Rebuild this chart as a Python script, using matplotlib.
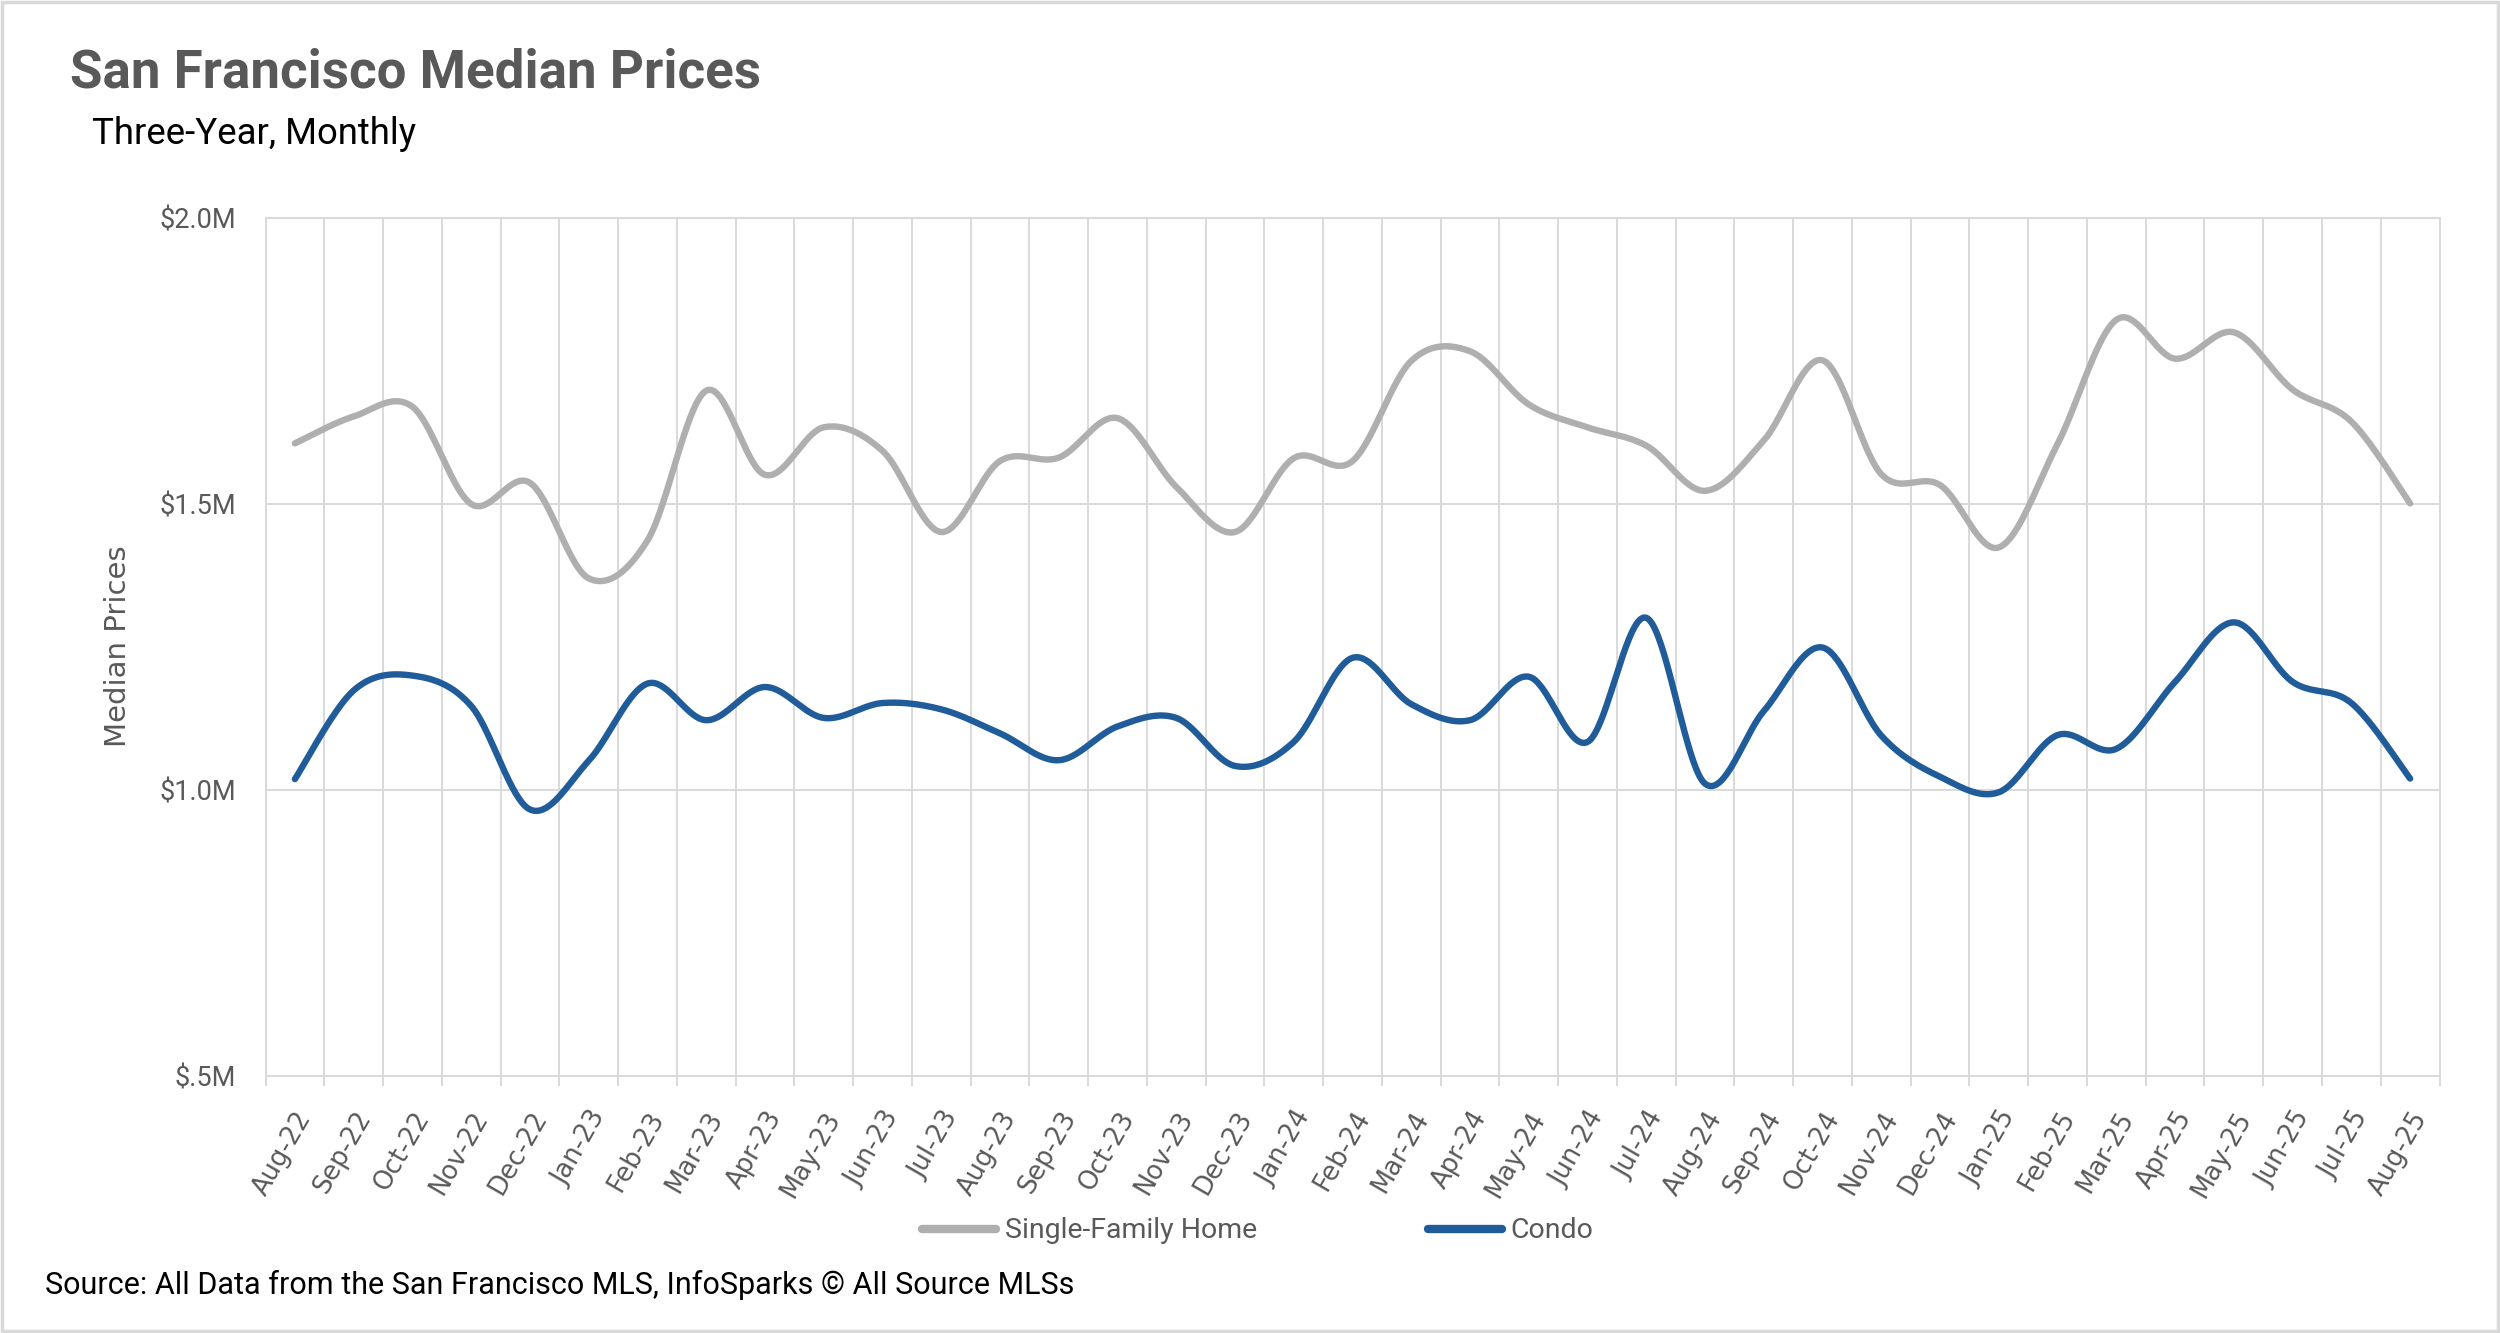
import numpy as np
import matplotlib
matplotlib.use("Agg")
import matplotlib.pyplot as plt
from matplotlib import font_manager
from matplotlib.patches import Rectangle
from matplotlib.ticker import FuncFormatter

# monthly categories
months = ["Aug-22", "Sep-22", "Oct-22", "Nov-22", "Dec-22",
          "Jan-23", "Feb-23", "Mar-23", "Apr-23", "May-23", "Jun-23",
          "Jul-23", "Aug-23", "Sep-23", "Oct-23", "Nov-23", "Dec-23",
          "Jan-24", "Feb-24", "Mar-24", "Apr-24", "May-24", "Jun-24",
          "Jul-24", "Aug-24", "Sep-24", "Oct-24", "Nov-24", "Dec-24",
          "Jan-25", "Feb-25", "Mar-25", "Apr-25", "May-25", "Jun-25",
          "Jul-25", "Aug-25"]

# median prices in $M
single_family = [1.606, 1.653, 1.670, 1.500, 1.537, 1.370, 1.436, 1.698,
                 1.551, 1.634, 1.593, 1.451, 1.575, 1.581, 1.650, 1.530,
                 1.451, 1.580, 1.575, 1.750, 1.767, 1.674, 1.634, 1.602,
                 1.523, 1.611, 1.751, 1.552, 1.533, 1.424, 1.605, 1.822,
                 1.754, 1.800, 1.700, 1.644, 1.501]
condo = [1.019, 1.174, 1.200, 1.147, 0.966, 1.051, 1.186, 1.122,
         1.180, 1.126, 1.152, 1.141, 1.099, 1.052, 1.111, 1.126,
         1.042, 1.084, 1.231, 1.150, 1.122, 1.198, 1.084, 1.301,
         1.011, 1.138, 1.249, 1.095, 1.023, 0.996, 1.096, 1.072,
         1.189, 1.293, 1.189, 1.152, 1.020]

y_ticks = [0.5, 1.0, 1.5, 2.0]

GRAY = "#afafaf"
BLUE = "#1f5c99"
GRID = "#d9d9d9"
TEXT = "#595959"


def pick_font(names):
    for n in names:
        try:
            font_manager.findfont(n, fallback_to_default=False)
            return n
        except Exception:
            pass
    return "DejaVu Sans"


NARROW = pick_font(["Liberation Sans Narrow", "Roboto", "DejaVu Sans"])
WIDE = "DejaVu Sans"


def smooth(xs, ys, n=40):
    # bezier curve through every point, like a spreadsheet "smoothed line"
    p = np.column_stack([xs, ys]).astype(float)
    pad = np.vstack([p[0], p, p[-1]])
    out = []
    for i in range(len(p) - 1):
        p0, p1, p2, p3 = pad[i], pad[i + 1], pad[i + 2], pad[i + 3]
        c1 = p1 + (p2 - p0) / 6
        c2 = p2 - (p3 - p1) / 6
        t = np.linspace(0, 1, n, endpoint=(i == len(p) - 2))[:, None]
        out.append((1 - t) ** 3 * p1 + 3 * (1 - t) ** 2 * t * c1
                   + 3 * (1 - t) * t ** 2 * c2 + t ** 3 * p2)
    return np.vstack(out)


fig = plt.figure(figsize=(25, 13.33), dpi=100)
ax = fig.add_axes([0.1062, 0.1928, 0.8696, 0.6437])

x = np.arange(len(months))
sf = smooth(x, single_family)
cd = smooth(x, condo)
ax.plot(sf[:, 0], sf[:, 1], color=GRAY, lw=4.6, solid_capstyle="round",
        label="Single-Family Home", zorder=3)
ax.plot(cd[:, 0], cd[:, 1], color=BLUE, lw=4.6, solid_capstyle="round",
        label="Condo", zorder=4)

ax.set_xlim(-0.5, len(months) - 0.5)
ax.set_ylim(0.5, 2.0)
ax.set_yticks(y_ticks)
ax.yaxis.set_major_formatter(
    FuncFormatter(lambda v, p: ("$%.1fM" % v).replace("$0.", "$.")))
ax.set_xticks(x)
ax.set_xticklabels(months, rotation=60, ha="right", va="top",
                   rotation_mode="anchor", fontsize=18.5, color=TEXT,
                   family=WIDE)
ax.set_xticks(np.arange(-0.5, len(months), 1), minor=True)

ax.grid(axis="y", which="major", color=GRID, lw=1.4)
ax.grid(axis="x", which="minor", color=GRID, lw=1.4)
ax.tick_params(axis="x", which="major", length=0, pad=22)
ax.tick_params(axis="x", which="minor", length=7, width=1.4, color=GRID)
ax.tick_params(axis="y", length=0, pad=21, labelsize=19.5, labelcolor=TEXT)
for lab in ax.get_yticklabels():
    lab.set_family(NARROW)
for s in ax.spines.values():
    s.set_color(GRID)
    s.set_linewidth(1.4)
ax.set_axisbelow(True)

fig.text(118 / 2500, 1 - 646 / 1333, "Median Prices", rotation=90,
         ha="center", va="center", fontsize=21, color=TEXT, family=WIDE)

title = fig.text(70 / 2500, 1 - 73 / 1333, "San Francisco Median Prices",
                 ha="left", va="center", fontsize=38, fontweight="bold",
                 color=TEXT, family=NARROW)
sub = fig.text(92 / 2500, 1 - 134 / 1333, "Three-Year, Monthly",
               ha="left", va="center", fontsize=22, color="black",
               family=NARROW)
fig.text(45 / 2500, 1 - 1285 / 1333,
         "Source: All Data from the San Francisco MLS, InfoSparks \u00a9 All Source MLSs",
         ha="left", va="center", fontsize=22, color="black", family=NARROW)

# scale the headline texts to the widths they take in the original
renderer = fig.canvas.get_renderer()
for t, w in [(title, 690), (sub, 323)]:
    bb = t.get_window_extent(renderer)
    t.set_fontsize(t.get_fontsize() * w / bb.width)

leg = fig.legend(loc="center", bbox_to_anchor=(0.503, 1 - 1231 / 1333),
                 ncol=2, frameon=False, handlelength=2.6, handletextpad=0.3,
                 columnspacing=6.0, prop={"family": NARROW, "size": 20.5})
for txt in leg.get_texts():
    txt.set_color(TEXT)
for h in leg.get_lines():
    h.set_linewidth(6)

fig.patches.append(Rectangle((0.0008, 0.0015), 0.9984, 0.997,
                             transform=fig.transFigure, fill=False,
                             ec=GRID, lw=2.5))

fig.savefig("out.png", dpi=100, facecolor="white")
